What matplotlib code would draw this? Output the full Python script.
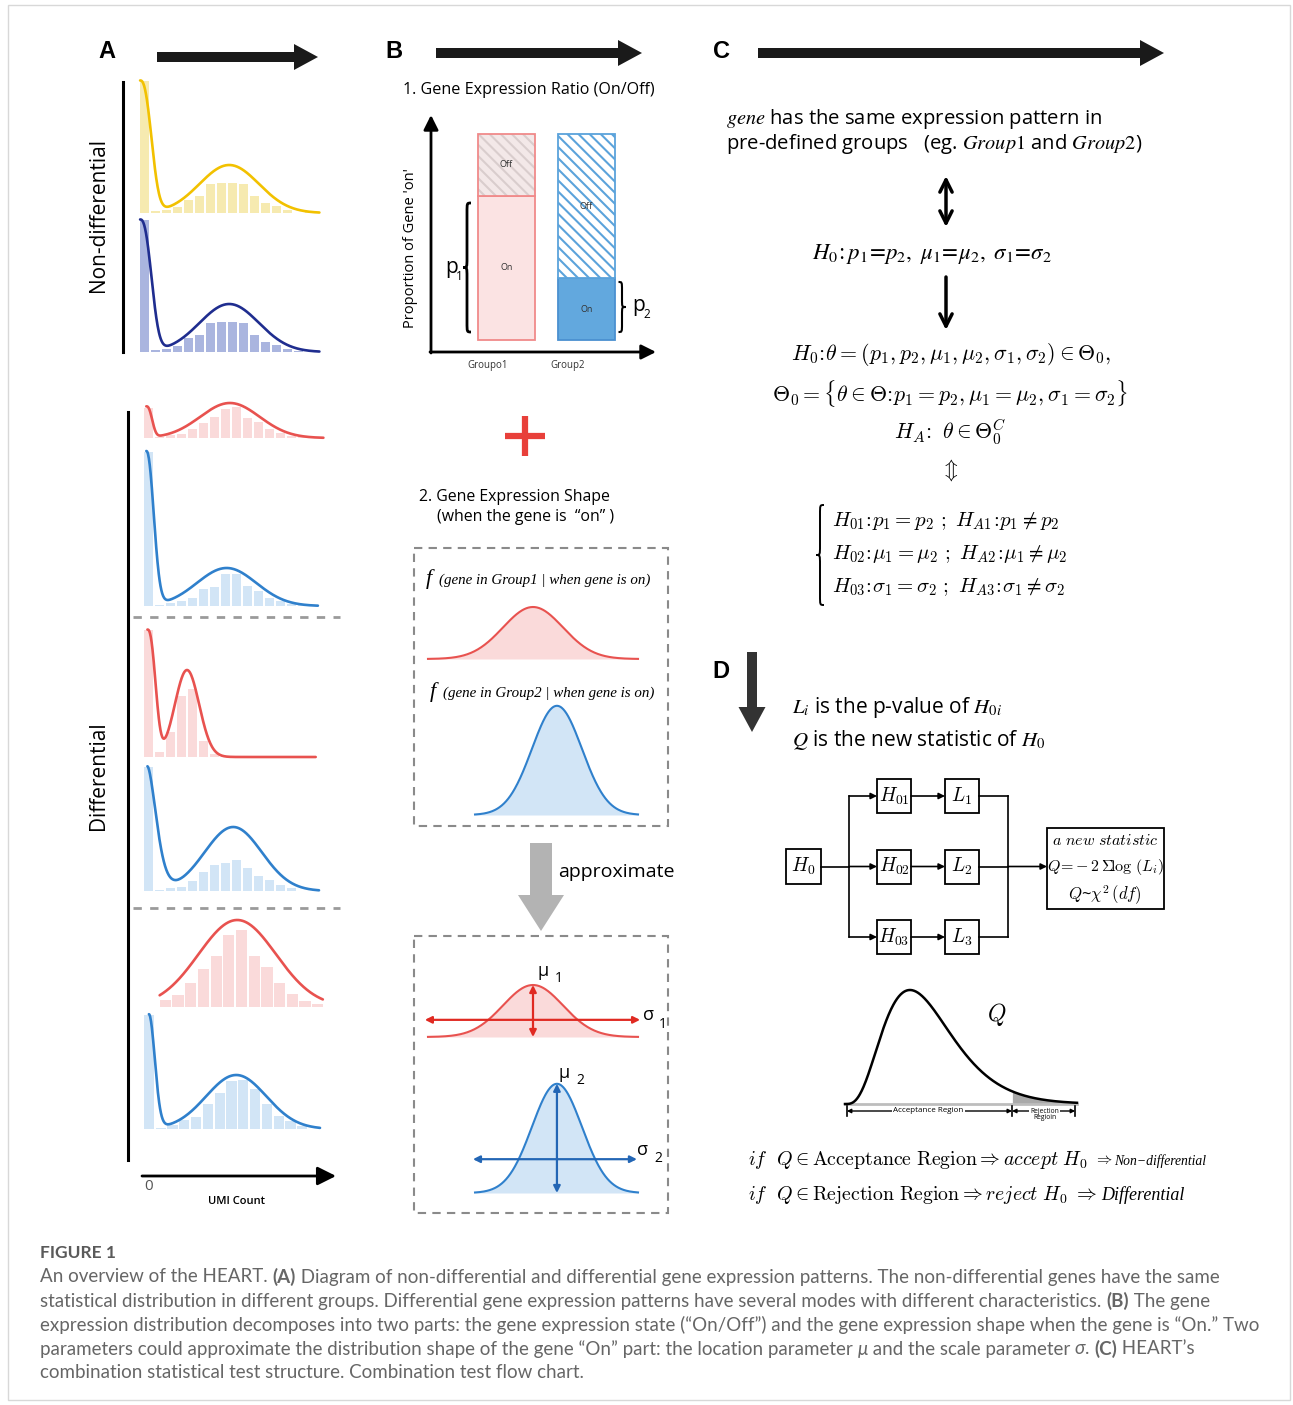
import numpy as np
import matplotlib
matplotlib.use("Agg")
import matplotlib.pyplot as plt
from matplotlib.patches import Rectangle, FancyArrow, PathPatch
from matplotlib.path import Path
from matplotlib.font_manager import FontProperties

W, H = 1293, 1405
plt.rcParams['font.family'] = ['Open Sans', 'DejaVu Sans']
plt.rcParams['mathtext.fontset'] = 'cm'
plt.rcParams['hatch.linewidth'] = 1.5

# ---------------- data ----------------
# A: histogram bar heights (px units), one value per UMI-count bin
nd_yellow = [132, 2, 3, 6, 13, 17, 29, 30, 30, 29, 17, 10, 7, 3, 0, 1]
nd_navy = [132, 2, 3, 6, 14, 17, 29, 30, 30, 29, 17, 10, 7, 3, 1]
d1_red = [30, 1, 3, 4, 9, 15, 21, 29, 31, 20, 16, 9, 5, 2, 1]
d1_blue = [154, 1, 3, 5, 8, 17, 19, 32, 32, 20, 15, 8, 5, 2, 1]
d2_red = [127, 5, 25, 61, 68, 16, 3, 1]
d2_blue = [124, 1, 3, 4, 10, 19, 26, 28, 31, 23, 15, 11, 6, 3]
d3_red = [7, 12, 24, 38, 51, 72, 77, 51, 40, 24, 13, 6, 3]
d3_blue = [114, 1, 4, 9, 12, 25, 36, 48, 49, 40, 25, 13, 8, 3]

# density outline: (start bin, zero spike height, spike width, spike power,
#                   mode centre, mode height, mode sd, end bin)
nd_yellow_fit = (0.1, 132, 1.28, 2.5, 8.2, 48, 2.7, 16.4)
nd_navy_fit = (0.1, 132, 1.28, 2.5, 8.2, 48, 2.7, 16.4)
d1_red_fit = (0.3, 31, 0.66, 2.5, 7.9, 35, 2.7, 16.4)
d1_blue_fit = (0.3, 154, 0.9, 2.2, 7.6, 38, 2.7, 15.9)
d2_red_fit = (0.4, 127, 0.92, 2.5, 4.0, 87, 1.1, 15.7)
d2_blue_fit = (0.4, 124, 1.15, 1.7, 8.2, 64, 2.6, 16.0)
d3_red_fit = (0.05, 0, 1.0, 2.0, 6.16, 87, 3.05, 12.9)
d3_blue_fit = (0.5, 114, 0.7, 2.0, 7.9, 54, 2.55, 15.0)

# B: proportion of cells with gene "on"
group_names = ['Groupo1', 'Group2']
p_on = [0.70, 0.30]
# B: expression shape when on (location, scale, peak height, start of curve)
shape_mu = [5.0, 6.14]
shape_sd = [1.43, 1.19]
shape_peak = [1.0, 2.1]
shape_start = [0.0, 2.24]

# D: combined statistic distribution
chi2_df = 9
q_crit = 18.0
q_max = 25.0

RED, RED_BAR = '#E8524F', '#FADADA'
BLUE, BLUE_BAR = '#2F80CC', '#D2E5F6'

fig = plt.figure(figsize=(W / 100, H / 100), dpi=100)
renderer = fig.canvas.get_renderer()
ax = fig.add_axes([0, 0, 1, 1])
ax.set_xlim(0, W)
ax.set_ylim(H, 0)
ax.axis('off')


def inset(left, top, w, h):
    a = fig.add_axes([left / W, 1 - (top + h) / H, w / W, h / H])
    a.axis('off')
    a.patch.set_alpha(0)
    return a


def hist_panel(left, base, binw, bars, fit, line_c, bar_c):
    a = inset(left, base - 170, 17 * binw, 170)
    a.set_xlim(0, 17)
    a.set_ylim(0, 170)
    x = np.arange(len(bars)) + 0.5
    a.bar(x, bars, width=0.88, color=bar_c, lw=0)
    xs, amp, w, p, m, h, s, xe = fit
    xx = np.linspace(xs, xe, 400)
    yy = h * np.exp(-0.5 * ((xx - m) / s) ** 2)
    if amp:
        yy = yy + amp * np.exp(-((xx - xs) / w) ** p)
    a.plot(xx, yy, color=line_c, lw=1.9, clip_on=False, solid_capstyle='round')


def brace(x, y0, y1, w, lw=1.6, color='k'):
    # w > 0 : '{'   w < 0 : '}'
    ym = (y0 + y1) / 2
    r = min(abs(w) * 1.2, (y1 - y0) / 6)
    xa, xt = x + w / 2, x - w / 2
    verts = [(xa, y0), (x, y0), (x, y0), (x, y0 + r),
             (x, ym - r), (x, ym), (x, ym), (xt, ym),
             (x, ym), (x, ym), (x, ym + r),
             (x, y1 - r), (x, y1), (x, y1), (xa, y1)]
    C, L = Path.CURVE4, Path.LINETO
    codes = [Path.MOVETO, C, C, C, L, C, C, C, C, C, C, L, C, C, C]
    ax.add_patch(PathPatch(Path(verts, codes), fill=False, lw=lw, ec=color))


def big_arrow(x, y, dx, dy, width, hw, hl, color):
    ax.add_patch(FancyArrow(x, y, dx, dy, width=width, head_width=hw, head_length=hl,
                            length_includes_head=True, color=color, lw=0))


def thin_arrow(x0, y0, x1, y1, style='-|>', lw=1.2, ms=10, color='k'):
    ax.annotate('', xy=(x1, y1), xytext=(x0, y0),
                arrowprops=dict(arrowstyle=style, lw=lw, color=color, mutation_scale=ms,
                                shrinkA=0, shrinkB=0))


# outer frame
ax.add_patch(Rectangle((8, 5), 1282, 1395, fill=False, ec='#D8D8D8', lw=1))

# ---------------- panel letters & header arrows ----------------
for lab, x, y in [('A', 107, 52), ('B', 394, 52), ('C', 721, 52), ('D', 721, 671)]:
    ax.text(x, y, lab, fontsize=17, fontweight='bold', family='Liberation Sans',
            ha='center', va='center')
big_arrow(157, 57, 161, 0, 10, 26, 24, '#1a1a1a')
big_arrow(436, 53, 206, 0, 10, 26, 24, '#1a1a1a')
big_arrow(758, 53, 406, 0, 10, 26, 24, '#1a1a1a')

# ---------------- panel A ----------------
ax.plot([123, 123], [82, 352], color='k', lw=2.2)
ax.plot([128, 128], [412, 1160], color='k', lw=2.2)
ax.text(98, 215, 'Non-differential', rotation=90, fontsize=15, ha='center', va='center')
ax.text(98, 776, 'Differential', rotation=90, fontsize=15, ha='center', va='center')
for yy in (617, 908):
    ax.plot([133, 340], [yy, yy], color='#9a9a9a', lw=2, ls=(0, (3, 3)))

hist_panel(139, 213, 11, nd_yellow, nd_yellow_fit, '#F2C100', '#F6EAB0')
hist_panel(139, 352, 11, nd_navy, nd_navy_fit, '#1F2D8F', '#AAB5DF')
hist_panel(143, 438, 11, d1_red, d1_red_fit, RED, RED_BAR)
hist_panel(143, 606, 11, d1_blue, d1_blue_fit, BLUE, BLUE_BAR)
hist_panel(143, 757, 11, d2_red, d2_red_fit, RED, RED_BAR)
hist_panel(143, 891, 11, d2_blue, d2_blue_fit, BLUE, BLUE_BAR)
hist_panel(159, 1007, 12.7, d3_red, d3_red_fit, RED, RED_BAR)
hist_panel(143, 1129, 11.8, d3_blue, d3_blue_fit, BLUE, BLUE_BAR)

thin_arrow(142, 1176, 336, 1176, lw=2, ms=28)
ax.text(149, 1187, '0', fontsize=11, color='#555', ha='center', va='center')
ax.text(236, 1202, 'UMI Count', fontsize=8, fontweight='semibold', ha='center', va='center')

# ---------------- panel B : on/off ratio ----------------
ax.text(403, 90, '1. Gene Expression Ratio (On/Off)', fontsize=11.6, ha='left', va='center')
thin_arrow(431, 353, 431, 115, lw=2, ms=22)
thin_arrow(430, 352, 656, 352, lw=2, ms=22)
ax.text(410, 248, "Proportion of Gene 'on'", rotation=90, fontsize=10.5, ha='center', va='center')

ab = inset(431, 117, 223, 235)
ab.set_xlim(-0.944, 1.844)
ab.set_ylim(-0.0583, 1.0825)
pos = np.arange(len(group_names))
off = [1 - v for v in p_on]
ab.bar(pos[0], p_on[0], width=0.71, color='#FBE3E3', ec='#F08A8A', lw=1.3)
ab.bar(pos[0], off[0], bottom=p_on[0], width=0.71, color='#F3E8E8', ec='#D9CDCD',
       lw=0, hatch='\\\\\\')
ab.bar(pos[0], off[0], bottom=p_on[0], width=0.71, fill=False, ec='#F08A8A', lw=1.3)
ab.bar(pos[1], p_on[1], width=0.71, color='#62A8DE', ec='#4A90D0', lw=1.3)
ab.bar(pos[1], off[1], bottom=p_on[1], width=0.71, color='white', ec='#5BA3DB',
       lw=1.3, hatch='\\\\\\')
for i in pos:
    ab.text(i, p_on[i] / 2, 'On', fontsize=6.5, ha='center', va='center', color='#333')
    ab.text(i, (p_on[i] + 1) / 2, 'Off', fontsize=6.5, ha='center', va='center', color='#333')
    ab.text(i - 0.24, -0.125, group_names[i], fontsize=7, ha='center', va='center', color='#333')

brace(467, 203, 332, 8, lw=2)
ax.text(452, 268, 'p', fontsize=15, ha='center', va='center')
ax.text(459, 276, '1', fontsize=8.5, ha='center', va='center')
brace(622, 282, 332, -7, lw=1.5)
ax.text(639, 306, 'p', fontsize=15, ha='center', va='center')
ax.text(647, 314, '2', fontsize=8.5, ha='center', va='center')

# red plus
ax.plot([505, 545], [436, 436], color='#E8403A', lw=4.5, solid_capstyle='butt')
ax.plot([525, 525], [416, 456], color='#E8403A', lw=4.5, solid_capstyle='butt')

# ---------------- panel B : expression shape ----------------
ax.text(419, 497, '2. Gene Expression Shape', fontsize=11.4, ha='left', va='center')
ax.text(437, 517, '(when the gene is  \u201con\u201d )', fontsize=11.4, ha='left', va='center')
ax.add_patch(Rectangle((414, 548), 254, 278, fill=False, ec='#8a8a8a', lw=1.5, ls=(0, (4, 3))))
ax.add_patch(Rectangle((414, 936), 254, 277, fill=False, ec='#8a8a8a', lw=1.5, ls=(0, (4, 3))))
for i, (yy, grp) in enumerate([(579, 'Group1'), (692, 'Group2')]):
    xf = 426 + 4 * i
    ax.text(xf, yy, 'f', fontsize=16, family='Liberation Serif', style='italic', ha='left', va='center')
    ax.text(xf + 13, yy + 1, '(gene in %s | when gene is on)' % grp, fontsize=10.8,
            family='Liberation Serif', style='italic', ha='left', va='center')

shape_cols = [(RED, RED_BAR), (BLUE, BLUE_BAR)]
arrow_cols = ['#E02A22', '#2366B5']
sig_y = [0.33, 0.65]
sig_x = [(-0.15, 10.1), (2.14, 9.95)]


def shape_axes(base):
    a = inset(428, base - 130, 210, 130)
    a.set_xlim(0, 10)
    a.set_ylim(0, 2.5)
    return a


for k, base in enumerate([659, 815, 1037, 1193]):
    i = k % 2
    a = shape_axes(base)
    xx = np.linspace(shape_start[i], 10, 300)
    yy = shape_peak[i] * np.exp(-0.5 * ((xx - shape_mu[i]) / shape_sd[i]) ** 2)
    a.fill_between(xx, 0, yy, color=shape_cols[i][1], lw=0)
    a.plot(xx, yy, color=shape_cols[i][0], lw=1.5, clip_on=False)
    if k >= 2:
        ap = dict(arrowstyle='<|-|>', lw=1.6, color=arrow_cols[i], mutation_scale=10,
                  shrinkA=0, shrinkB=0)
        a.annotate('', xy=(shape_mu[i], shape_peak[i]), xytext=(shape_mu[i], 0), arrowprops=ap,
                   annotation_clip=False)
        a.annotate('', xy=(sig_x[i][1], sig_y[i]), xytext=(sig_x[i][0], sig_y[i]), arrowprops=ap,
                   annotation_clip=False)

ax.text(543, 971, '\u03bc', fontsize=13, ha='center', va='center')
ax.text(559, 979, '1', fontsize=10, ha='center', va='center')
ax.text(648, 1015, '\u03c3', fontsize=13, ha='center', va='center')
ax.text(663, 1024, '1', fontsize=10, ha='center', va='center')
ax.text(564, 1073, '\u03bc', fontsize=13, ha='center', va='center')
ax.text(580, 1081, '2', fontsize=10, ha='center', va='center')
ax.text(643, 1150, '\u03c3', fontsize=13, ha='center', va='center')
ax.text(658, 1158, '2', fontsize=10, ha='center', va='center')

big_arrow(541, 843, 0, 88, 22, 46, 36, '#B3B3B3')
ax.text(558, 872, 'approximate', fontsize=14, ha='left', va='center')

# ---------------- panel C ----------------
ax.text(726, 119, r'$gene$ has the same expression pattern in', fontsize=14.6,
        math_fontfamily='stix', ha='left', va='center')
ax.text(726, 144, r'pre-defined groups   (eg. $\mathit{Group1}$ and $\mathit{Group2}$)',
        fontsize=14.6, math_fontfamily='stix', ha='left', va='center')
thin_arrow(946, 176, 946, 227, style='<->', lw=2.5, ms=22)
ax.text(932, 254, r'$H_0\!: p_1\!=\!p_2,\ \mu_1\!=\!\mu_2,\ \sigma_1\!=\!\sigma_2$', fontsize=16.5,
        math_fontfamily='stix', ha='center', va='center')
thin_arrow(946, 277, 946, 330, style='->', lw=2.5, ms=22)
ax.text(951, 355, r'$H_0\!:\!\theta=(p_1,p_2,\mu_1,\mu_2,\sigma_1,\sigma_2)\in\Theta_0,$',
        fontsize=15.8, ha='center', va='center')
ax.text(950, 394, r'$\Theta_0=\{\theta\in\Theta\!:\!p_1=p_2,\mu_1=\mu_2,\sigma_1=\sigma_2\}$',
        fontsize=15.8, ha='center', va='center')
ax.text(950, 432, r'$H_A\!:\ \theta\in\Theta_0^C$', fontsize=15.8, ha='center', va='center')
ax.text(950, 470, r'$\Updownarrow$', fontsize=15, ha='center', va='center')
brace(820, 505, 605, 8, lw=1.4)
hyp = [r'$H_{01}\!:\!p_1=p_2\ ;\ H_{A1}\!:\!p_1\neq p_2$',
       r'$H_{02}\!:\!\mu_1=\mu_2\ ;\ H_{A2}\!:\!\mu_1\neq\mu_2$',
       r'$H_{03}\!:\!\sigma_1=\sigma_2\ ;\ H_{A3}\!:\!\sigma_1\neq\sigma_2$']
for s, yy in zip(hyp, [521, 554, 587]):
    ax.text(832, yy, s, fontsize=15, ha='left', va='center')

# ---------------- panel D ----------------
big_arrow(752, 652, 0, 80, 10, 27, 25, '#333333')
ax.text(792, 708, r'$L_i$ is the p-value of $H_{0i}$', fontsize=15, math_fontfamily='stix',
        ha='left', va='center')
ax.text(792, 740, r'$Q$ is the new statistic of $H_0$', fontsize=15, math_fontfamily='stix',
        ha='left', va='center')


def box(x0, y0, x1, y1, s, fs=14):
    ax.add_patch(Rectangle((x0, y0), x1 - x0, y1 - y0, fill=False, ec='k', lw=1.3))
    ax.text((x0 + x1) / 2, (y0 + y1) / 2, s, fontsize=fs, ha='center', va='center')


rows = [796, 866.5, 937]
box(786, 849, 821, 884, r'$H_0$')
for j, yc in enumerate(rows):
    box(877, yc - 17, 911, yc + 17, r'$H_{0%d}$' % (j + 1))
    box(945, yc - 17, 979, yc + 17, r'$L_%d$' % (j + 1))
    thin_arrow(849, yc, 877, yc, ms=9)
    thin_arrow(911, yc, 945, yc, ms=9)
    ax.plot([979, 1008], [yc, yc], color='k', lw=1.2)
ax.plot([821, 849], [866.5, 866.5], color='k', lw=1.2)
ax.plot([849, 849], [796, 937], color='k', lw=1.2)
ax.plot([1008, 1008], [796, 937], color='k', lw=1.2)
thin_arrow(1008, 866.5, 1047, 866.5, ms=9)
ax.add_patch(Rectangle((1047, 828), 117, 81, fill=False, ec='k', lw=1.3))
ax.text(1105, 841, r'$a\ new\ statistic$', fontsize=11.5, ha='center', va='center')
ax.text(1106, 867, r'$Q\!=\!-2\,\Sigma\!\log\,(L_i)$', fontsize=11.5, ha='center', va='center')
ax.text(1105, 895, r'$Q$~$\chi^2\,(df)$', fontsize=12, ha='center', va='center')

# chi-square curve
aq = inset(845, 1104 - 130, 232, 130)
aq.set_xlim(0, q_max)
aq.set_ylim(0, 130 / 114)
qq = np.linspace(0, q_max, 500)
kk = chi2_df / 2 - 1
dens = qq ** kk * np.exp(-qq / 2)
dens = dens / dens.max()
aq.fill_between(qq[qq >= q_crit], 0, dens[qq >= q_crit], color='#A9A9A9', lw=0)
aq.plot([0, q_max], [0, 0], color='#BDBDBD', lw=2, clip_on=False)
aq.plot(qq, dens, color='k', lw=1.8, clip_on=False)
ry = -7 / 114
rap = dict(arrowstyle='<|-|>', lw=1, color='k', mutation_scale=6, shrinkA=0, shrinkB=0)
aq.annotate('', xy=(q_crit, ry), xytext=(0.2, ry), arrowprops=rap, annotation_clip=False)
aq.annotate('', xy=(q_max - 0.2, ry), xytext=(q_crit, ry), arrowprops=rap, annotation_clip=False)
for xb in (0.2, q_crit, q_max - 0.2):
    aq.plot([xb, xb], [ry - 0.04, ry + 0.04], color='k', lw=1.2, clip_on=False)
aq.text(q_crit / 2, ry, 'Acceptance Region', fontsize=5.8, ha='center', va='center',
        bbox=dict(fc='white', ec='none', pad=1))
aq.text((q_crit + q_max) / 2, ry - 0.03, 'Rejection\nRegioin', fontsize=4.8, ha='center',
        va='center', linespacing=0.9, bbox=dict(fc='white', ec='none', pad=0.5))
ax.text(997, 1014, r'$Q$', fontsize=17, ha='center', va='center')

ax.text(748, 1160, r'$if\ \ Q\in\mathrm{Acceptance\ Region}\Rightarrow accept\ H_0$', fontsize=14.3,
        ha='left', va='center')
ax.text(1094, 1160, r'$\Rightarrow$', fontsize=11, ha='left', va='center')
ax.text(1114, 1161, 'Non\u2212differential', fontsize=9.8, family='Liberation Serif',
        style='italic', ha='left', va='center')
ax.text(748, 1195, r'$if\ \ Q\in\mathrm{Rejection\ Region}\Rightarrow reject\ H_0\ \Rightarrow\ $',
        fontsize=14.3, ha='left', va='center')
ax.text(1101, 1195, 'Differential', fontsize=13, family='Liberation Serif', style='italic',
        ha='left', va='center')

# ---------------- caption ----------------
cap_fam = ['Lato', 'DejaVu Sans']
ax.text(40, 1253, 'FIGURE 1', fontsize=12.5, family=cap_fam, fontweight='bold', color='#5a5a5a',
        ha='left', va='center')
cap_lines = [
    [("An overview of the HEART. ", 'n'), ("(A)", 'b'),
     (" Diagram of non-differential and differential gene expression patterns. The non-differential genes have the same", 'n')],
    [("statistical distribution in different groups. Differential gene expression patterns have several modes with different characteristics. ", 'n'),
     ("(B)", 'b'), (" The gene", 'n')],
    [("expression distribution decomposes into two parts: the gene expression state (\u201cOn/Off\u201d) and the gene expression shape when the gene is \u201cOn.\u201d Two", 'n')],
    [("parameters could approximate the distribution shape of the gene \u201cOn\u201d part: the location parameter ", 'n'),
     ("\u03bc", 'i'), (" and the scale parameter ", 'n'), ("\u03c3", 'i'), (". ", 'n'), ("(C)", 'b'), (" HEART\u2019s", 'n')],
    [("combination statistical test structure. Combination test flow chart.", 'n')],
]


def fprops(kind, size):
    return FontProperties(family=cap_fam, size=size,
                          weight='bold' if kind == 'b' else 'normal',
                          style='italic' if kind == 'i' else 'normal')


def seg_width(s, fp):
    bar = renderer.get_text_width_height_descent('|', fp, ismath=False)[0]
    return renderer.get_text_width_height_descent(s + '|', fp, ismath=False)[0] - bar


w10 = sum(seg_width(s, fprops(k, 10)) for s, k in cap_lines[0])
cap_size = 10 * 1178 / w10
for ln, yy in zip(cap_lines, [1277, 1301, 1325, 1349, 1373]):
    x = 40
    for s, k in ln:
        fp = fprops(k, cap_size)
        ax.text(x, yy, s, fontproperties=fp, color='#666666', ha='left', va='center')
        x += seg_width(s, fp)

fig.savefig('out.png', dpi=100)
